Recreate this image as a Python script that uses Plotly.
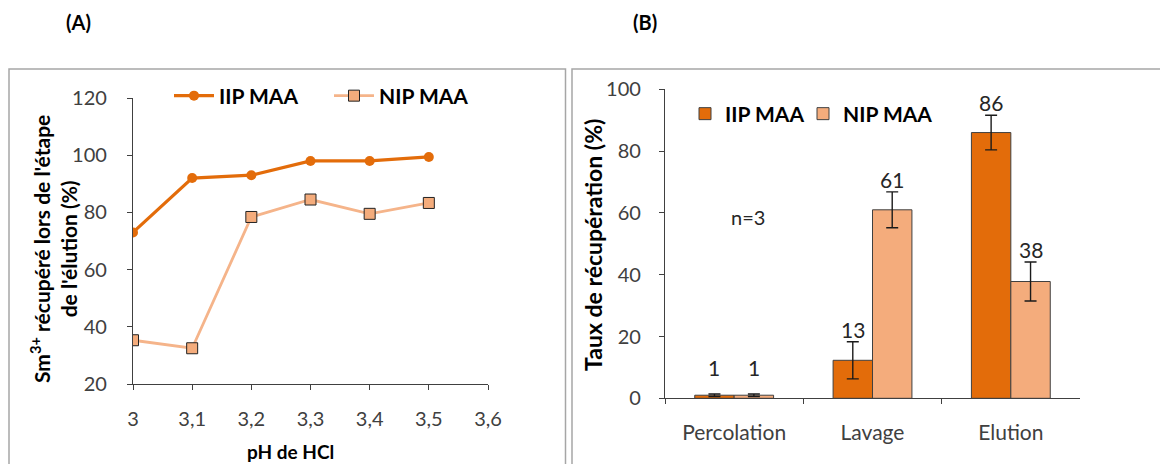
import plotly.graph_objects as go

# ---------- Data ----------
ph_values = [3.0, 3.1, 3.2, 3.3, 3.4, 3.5]
iip_ph = [73, 92, 93, 98, 98, 99.4]
nip_ph = [35.3, 32.5, 78.4, 84.5, 79.5, 83.3]
ph_ticks = [3.0, 3.1, 3.2, 3.3, 3.4, 3.5, 3.6]
ph_ticktext = ["3", "3,1", "3,2", "3,3", "3,4", "3,5", "3,6"]

steps = ["Percolation", "Lavage", "Elution"]
iip_rec = [1, 12.3, 86]
nip_rec = [1, 61, 37.8]
iip_err = [0.4, 6, 5.6]
nip_err = [0.4, 5.8, 6.3]
iip_lbl = ["1", "13", "86"]
nip_lbl = ["1", "61", "38"]

series_names = ["IIP MAA", "NIP MAA"]

# ---------- Style ----------
OFF = 8                      # page body margin
W, H = 1168 - OFF, 464 - OFF  # figure size
C_IIP = "#E36C0A"
C_NIP = "#F4AC7C"
C_NIP_LINE = "#F5B48A"
AX = "#404040"
FONT = "Lato"


def fx(p):  # reference page pixel -> paper x
    return (p - OFF) / W


def fy(p):  # reference page pixel -> paper y
    return 1 - (p - OFF) / H


xA = [fx(133), fx(488)]
yA = [fy(384), fy(98)]
xB = [fx(665), fx(1080)]
yB = [fy(398.3), fy(89.3)]
BARGAP = 0.43

fig = go.Figure()

# Panel A
fig.add_trace(go.Scatter(
    x=ph_values, y=iip_ph, name=series_names[0], mode="lines+markers",
    line=dict(color=C_IIP, width=3.2),
    marker=dict(symbol="circle", size=10, color=C_IIP),
    xaxis="x", yaxis="y", legend="legend"))
fig.add_trace(go.Scatter(
    x=ph_values, y=nip_ph, name=series_names[1], mode="lines+markers",
    line=dict(color=C_NIP_LINE, width=2.8),
    marker=dict(symbol="square", size=11, color=C_NIP,
                line=dict(color="#222222", width=1)),
    xaxis="x", yaxis="y", legend="legend"))

# Panel B
err_style = dict(type="data", thickness=1.4, width=6, color="#1a1a1a")
fig.add_trace(go.Bar(
    x=steps, y=iip_rec, name=series_names[0],
    marker=dict(color=C_IIP, line=dict(color=AX, width=1)),
    error_y=dict(array=iip_err, **err_style),
    xaxis="x2", yaxis="y2", legend="legend2"))
fig.add_trace(go.Bar(
    x=steps, y=nip_rec, name=series_names[1],
    marker=dict(color=C_NIP, line=dict(color=AX, width=1)),
    error_y=dict(array=nip_err, **err_style),
    xaxis="x2", yaxis="y2", legend="legend3"))

# data labels above error bars
cat_px = (xB[1] - xB[0]) * W / len(steps)
bar_px = cat_px * (1 - BARGAP) / 2
annotations = []
for vals, errs, lbls, sgn in [(iip_rec, iip_err, iip_lbl, -1), (nip_rec, nip_err, nip_lbl, 1)]:
    for i, s in enumerate(steps):
        extra = 14 if vals[i] < 5 else 0
        annotations.append(dict(
            x=s, y=vals[i] + errs[i], xref="x2", yref="y2", text=lbls[i],
            showarrow=False, xshift=sgn * bar_px / 2, yshift=extra - 2,
            xanchor="center", yanchor="bottom",
            font=dict(family=FONT, size=21, color="#262626")))


def px_note(x, y, text, size, angle=0, color="black"):
    return dict(x=fx(x), y=fy(y), xref="paper", yref="paper", text=text,
                textangle=angle, showarrow=False, xanchor="center", yanchor="middle",
                font=dict(family=FONT, size=size, color=color))


annotations += [
    px_note(748, 217, "n=3", 20, color="#262626"),
    px_note(78, 22, "<b>(A)</b>", 20),
    px_note(645, 22, "<b>(B)</b>", 20),
    px_note(53, 249, "<b>Sm<sup>3+</sup> récupéré lors de l'étape<br>de l'élution (%)</b>", 21, -90),
    px_note(593, 245, "<b>Taux de récupération (%)</b>", 23, -90),
    px_note(290, 451, "<b>pH de HCl</b>", 19),
]

tickfont = dict(family=FONT, size=20, color=AX)
axis_common = dict(showline=True, linecolor=AX, linewidth=1.3, ticks="outside",
                   ticklen=5, tickcolor=AX, tickwidth=1.3, showgrid=False,
                   zeroline=False, tickfont=tickfont, automargin=False)

legend_font = dict(family=FONT, size=21, color="black", weight="bold")

fig.update_layout(
    template="none",
    width=W, height=H, margin=dict(l=0, r=0, t=0, b=0, pad=0, autoexpand=False),
    paper_bgcolor="white", plot_bgcolor="white",
    barmode="group", bargap=BARGAP, bargroupgap=0,
    xaxis=dict(domain=xA, range=[3, 3.6], tickvals=ph_ticks, ticktext=ph_ticktext,
               anchor="y", ticklabelstandoff=12, **axis_common),
    yaxis=dict(domain=yA, range=[20, 120], dtick=20, anchor="x",
               ticklabelstandoff=16, **axis_common),
    xaxis2=dict(domain=xB, anchor="y2", tickson="boundaries", ticklabelstandoff=15,
                **{**axis_common, "tickfont": dict(family=FONT, size=21, color=AX)}),
    yaxis2=dict(domain=yB, range=[0, 100], dtick=20, anchor="x2",
                ticklabelstandoff=14, **axis_common),
    legend=dict(orientation="h", x=fx(169), y=fy(96), xanchor="left", yanchor="middle",
                font=legend_font, bgcolor="rgba(0,0,0,0)", itemwidth=40,
                entrywidth=105, entrywidthmode="pixels"),
    legend2=dict(orientation="h", x=fx(685), y=fy(114), xanchor="left", yanchor="middle",
                 font=legend_font, bgcolor="rgba(0,0,0,0)", itemwidth=30),
    legend3=dict(orientation="h", x=fx(803), y=fy(114), xanchor="left", yanchor="middle",
                 font=legend_font, bgcolor="rgba(0,0,0,0)", itemwidth=30),
    annotations=annotations,
    shapes=[
        dict(type="rect", xref="paper", yref="paper", x0=fx(9), x1=fx(565.5),
             y0=-0.2, y1=fy(69), line=dict(color="#A6A6A6", width=1.5)),
        dict(type="rect", xref="paper", yref="paper", x0=fx(572), x1=1.2,
             y0=-0.2, y1=fy(69), line=dict(color="#A6A6A6", width=1.5)),
    ],
    showlegend=True,
)

fig.write_html("out.html")
